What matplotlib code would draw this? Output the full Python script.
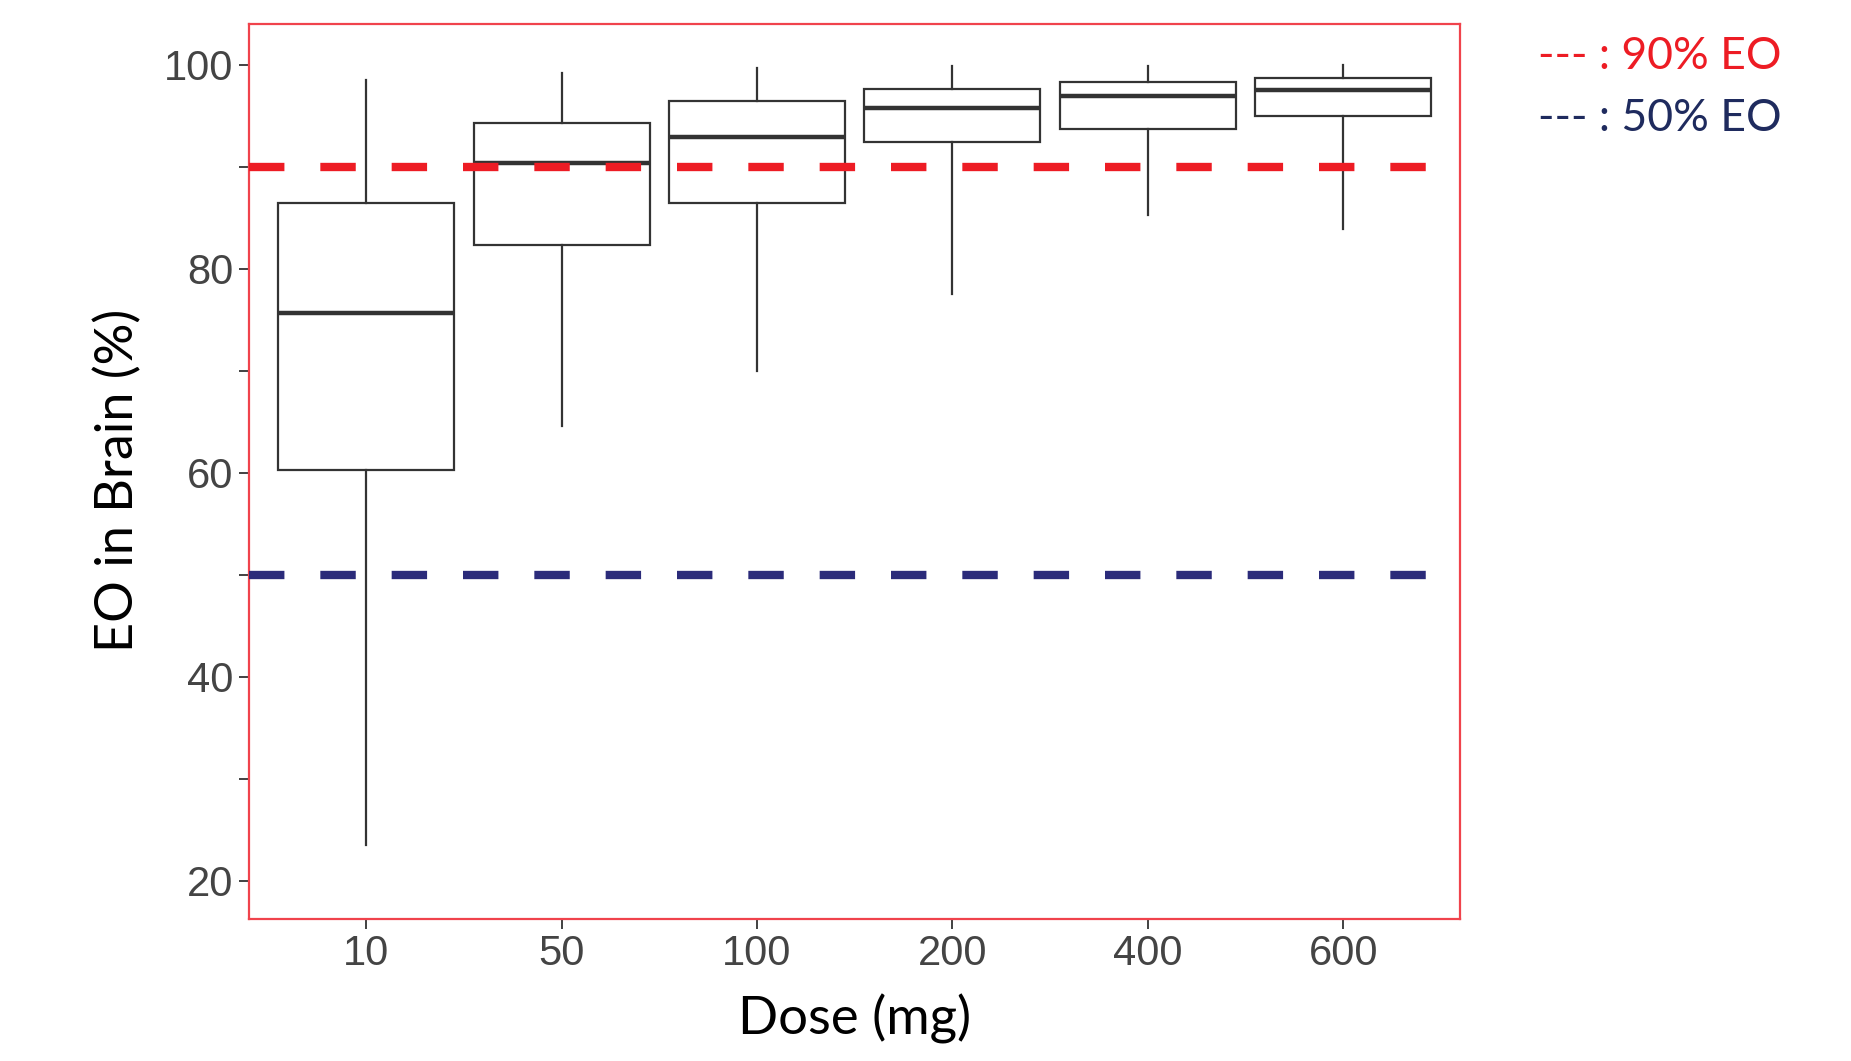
import matplotlib
matplotlib.use("Agg")
import matplotlib.pyplot as plt

# values
doses = ["10", "50", "100", "200", "400", "600"]
whisker_low = [23.5, 64.6, 70.0, 77.5, 85.3, 83.9]
q1 = [60.3, 82.3, 86.5, 92.4, 93.7, 95.0]
median = [75.7, 90.4, 92.9, 95.8, 96.9, 97.5]
q3 = [86.5, 94.3, 96.5, 97.6, 98.3, 98.7]
whisker_high = [98.5, 99.2, 99.7, 99.9, 99.9, 100.0]

eo_levels = [90, 50]
eo_colors = ["#ED1C24", "#2B2B7A"]
legend_colors = ["#ED1C24", "#1F2B5E"]
legend_labels = ["--- : 90% EO", "--- : 50% EO"]

y_major = [20, 40, 60, 80, 100]
y_minor = [30, 50, 70, 90]

fig = plt.figure(figsize=(18.51, 10.61), dpi=100)
ax = fig.add_axes([0.1345, 0.1343, 0.6545, 0.8435])

stats = []
for i in range(len(doses)):
    stats.append({
        "whislo": whisker_low[i], "q1": q1[i], "med": median[i],
        "q3": q3[i], "whishi": whisker_high[i], "fliers": [], "label": doses[i],
    })

positions = list(range(1, len(doses) + 1))
ax.bxp(stats, positions=positions, widths=0.9, showcaps=False, patch_artist=True,
       boxprops=dict(facecolor="white", edgecolor="#333333", linewidth=1.6),
       whiskerprops=dict(color="#333333", linewidth=1.6),
       medianprops=dict(color="#333333", linewidth=3.2),
       zorder=2)

for level, col in zip(eo_levels, eo_colors):
    ax.axhline(level, color=col, linewidth=6, dashes=(4.25, 4.31), zorder=3)

ax.set_xlim(0.4, 6.6)
ax.set_ylim(16.3, 104.05)
ax.set_xticks(positions)
ax.set_xticklabels(doses)
ax.set_yticks(y_major)
ax.set_yticks(y_minor, minor=True)

for sp in ax.spines.values():
    sp.set_color("#F0434C")
    sp.set_linewidth(1.6)

ax.tick_params(axis="both", which="both", length=7, width=1.3, color="#333333",
               labelsize=30, labelcolor="#444444", pad=4)
for lab in ax.get_xticklabels() + ax.get_yticklabels():
    lab.set_family("Liberation Sans")

fig.text(0.4615, 0.04, "Dose (mg)", ha="center", va="center", fontsize=38,
         family="Lato", color="black")
fig.text(0.064, 0.5475, "EO in Brain (%)", ha="center", va="center", fontsize=37.5,
         family="Lato", color="black", rotation=90)

for k, (txt, col) in enumerate(zip(legend_labels, legend_colors)):
    fig.text(0.831, 0.9465 - k * 0.058, txt, ha="left", va="center", fontsize=32,
             family="Lato", color=col)

fig.savefig("out.png", dpi=100, facecolor="white")
